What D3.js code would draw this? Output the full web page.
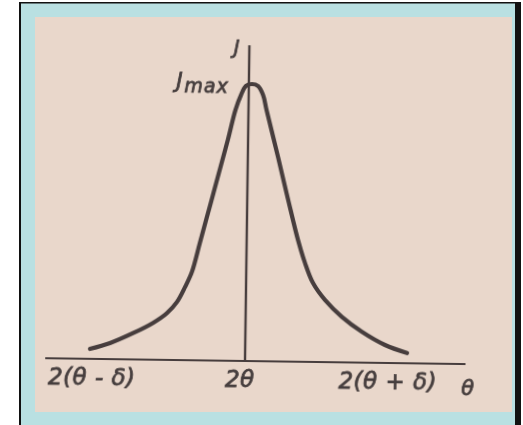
<!DOCTYPE html>
<html>
<head>
<meta charset="utf-8">
<script src="https://cdn.jsdelivr.net/npm/d3@7/dist/d3.min.js"></script>
<style>
  html, body { margin: 0; padding: 0; background: #ffffff; }
  svg { display: block; }
</style>
</head>
<body>
<svg id="chart" width="523" height="425"></svg>
<script>
// Diffraction line profile: intensity J against the angle 2θ,
// with 2θ at 0 and 2(θ ± δ) at ±1.
const profileX = [-1.048, -0.914, -0.759, -0.625, -0.532, -0.465, -0.412, -0.367, -0.315, -0.251, -0.187, -0.136, -0.088,
                  -0.052, -0.019, 0.021, 0.062, 0.097,
                  0.122, 0.204, 0.275, 0.347, 0.396, 0.452, 0.535, 0.651, 0.788, 0.944, 1.094];
const profileJ = [0.036, 0.058, 0.095, 0.133, 0.169, 0.210, 0.264, 0.319, 0.426, 0.559, 0.692, 0.799, 0.906,
                  0.960, 0.993, 1.000, 0.993, 0.961,
                  0.907, 0.738, 0.587, 0.439, 0.357, 0.285, 0.224, 0.164, 0.111, 0.065, 0.037];
const tickValues = [-1, 0, 1];
const tickLabels = ["2(θ - δ)", "2θ", "2(θ + δ)"];
const axisXLabel = "θ";
const axisYLabel = "J";
const peakLabel = "J";
const peakSub = "max";
const jMax = 1;

const svg = d3.select("#chart");
const ink = "#463e3e";

// page frame and paper
svg.append("rect").attr("x", 19).attr("y", 2).attr("width", 502).attr("height", 423).attr("fill", "#111");
svg.append("rect").attr("x", 21).attr("y", 3.5).attr("width", 494).attr("height", 421.5).attr("fill", "#b9e0e2");
svg.append("rect").attr("x", 35).attr("y", 17).attr("width", 477).attr("height", 395).attr("fill", "#e9d7cb");

const defs = svg.append("defs");
defs.append("filter").attr("id", "soft")
  .append("feGaussianBlur").attr("stdDeviation", 0.45);

const x = d3.scaleLinear().domain([-1, 1]).range([97, 393]);
const y = d3.scaleLinear().domain([0, 1]).range([361, 84]);

// the printed figure sits slightly skewed on the page
const plot = svg.append("g")
  .attr("transform", `rotate(0.8, ${x(0)}, ${y(0)})`)
  .attr("filter", "url(#soft)");

// angle axis
plot.append("line")
  .attr("x1", x(-1.35)).attr("x2", x(1.49))
  .attr("y1", y(0)).attr("y2", y(0))
  .attr("stroke", ink).attr("stroke-width", 2.2);

// intensity axis
plot.append("line")
  .attr("x1", x(0)).attr("x2", x(0))
  .attr("y1", y(0)).attr("y2", y(1.14))
  .attr("stroke", ink).attr("stroke-width", 2.4);

// profile curve
const pts = profileX.map((v, i) => [v, profileJ[i]]);
plot.append("path")
  .datum(pts)
  .attr("d", d3.line().x(d => x(d[0])).y(d => y(d[1])).curve(d3.curveCatmullRom.alpha(0.5)))
  .attr("fill", "none")
  .attr("stroke", ink)
  .attr("stroke-width", 4.2)
  .attr("stroke-linecap", "round");

const font = "'DejaVu Sans', sans-serif";
const textStyle = sel => sel
  .attr("font-family", font)
  .attr("font-style", "italic")
  .attr("fill", ink)
  .attr("stroke", ink)
  .attr("stroke-width", 0.8);

// tick labels under the angle axis
plot.selectAll("text.tick")
  .data(tickValues)
  .join("text")
  .attr("class", "tick")
  .attr("x", d => x(d) - 5)
  .attr("y", y(0) + 26)
  .attr("text-anchor", "middle")
  .attr("font-size", 23)
  .attr("letter-spacing", 0.5)
  .call(textStyle)
  .text((d, i) => tickLabels[i]);

// axis names
plot.append("text")
  .attr("x", x(1.49) - 4)
  .attr("y", y(0) + 31)
  .attr("font-size", 21)
  .call(textStyle)
  .text(axisXLabel);

plot.append("text")
  .attr("x", x(0) - 10)
  .attr("y", y(1.107))
  .attr("text-anchor", "end")
  .attr("font-size", 19)
  .call(textStyle)
  .text(axisYLabel);

// peak value label
const peak = plot.append("text")
  .attr("x", x(0) - 20)
  .attr("y", y(jMax) + 5)
  .attr("text-anchor", "end")
  .attr("font-size", 21)
  .call(textStyle);
peak.append("tspan").text(peakLabel);
peak.append("tspan").attr("dx", 2).attr("dy", 4).attr("font-size", 19).attr("letter-spacing", 1).text(peakSub);
</script>
</body>
</html>
